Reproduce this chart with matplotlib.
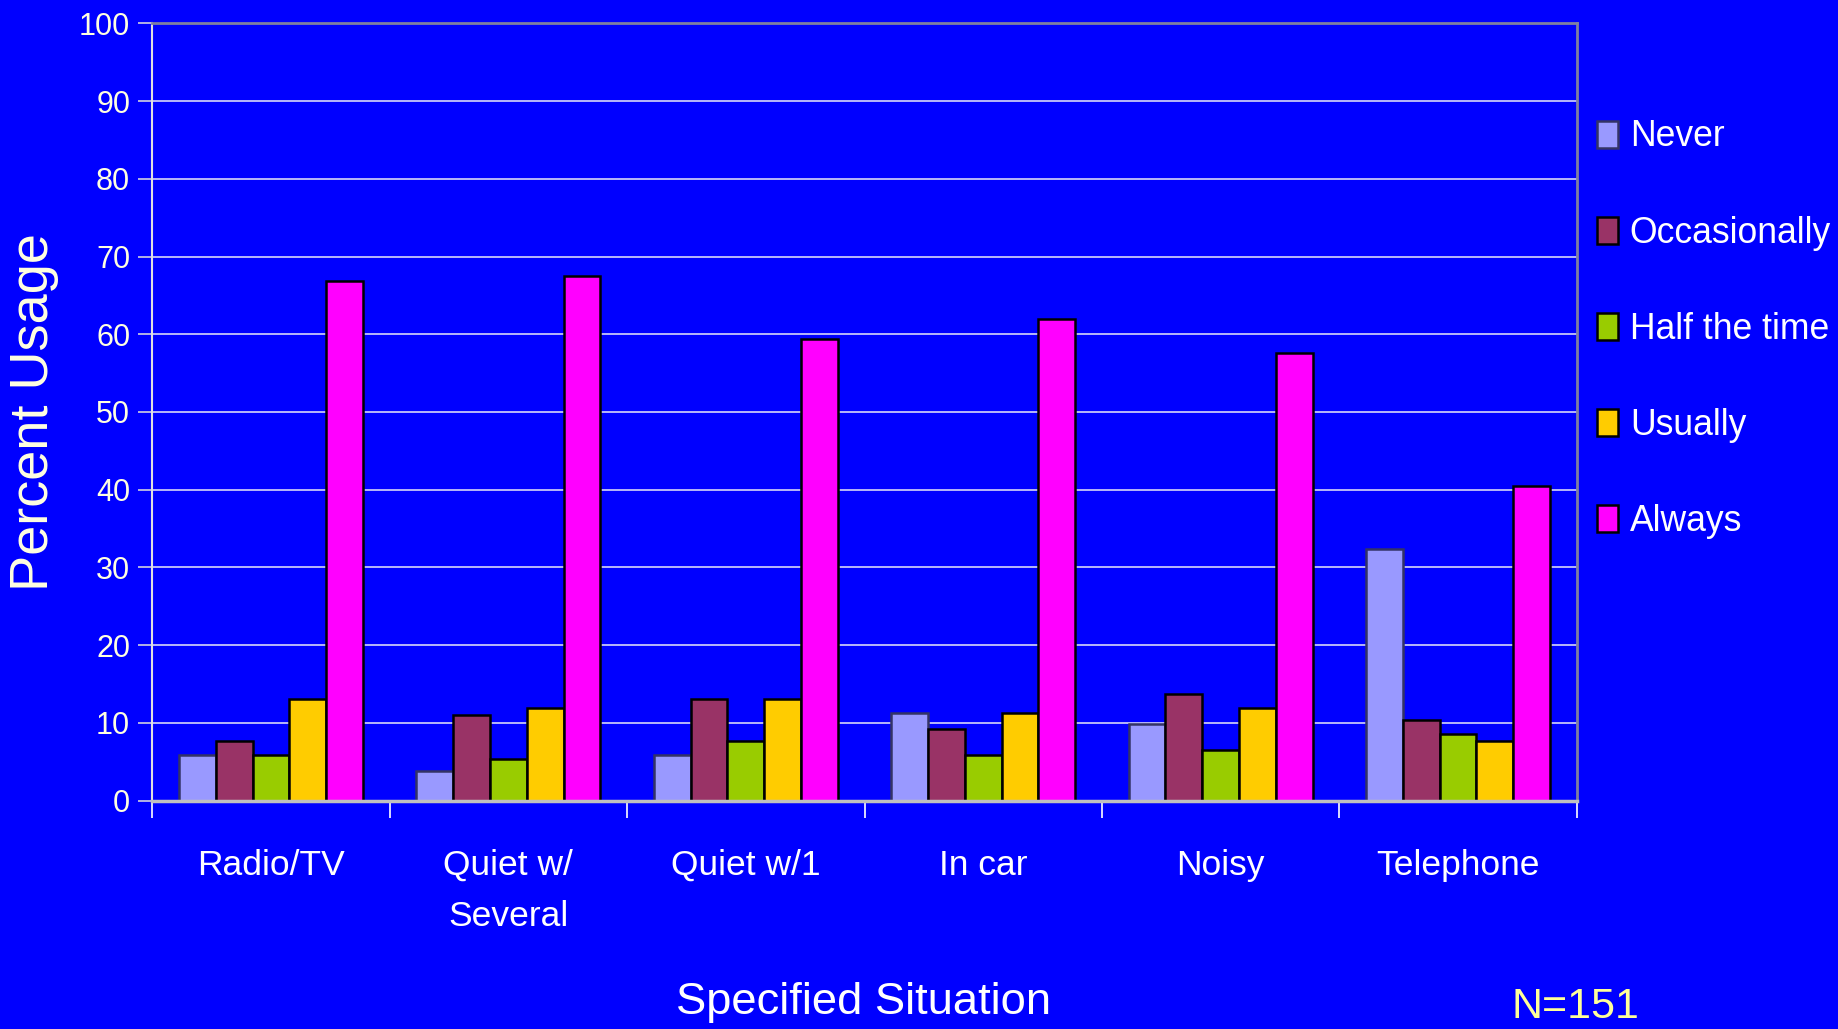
import matplotlib
matplotlib.use("Agg")
import matplotlib.pyplot as plt
import numpy as np

categories = ["Radio/TV", "Quiet w/\nSeveral", "Quiet w/1", "In car", "Noisy", "Telephone"]
series_names = ["Never", "Occasionally", "Half the time", "Usually", "Always"]
never = [5.9, 3.8, 5.9, 11.3, 9.8, 32.4]
occasionally = [7.7, 11.0, 13.1, 9.2, 13.7, 10.4]
half_the_time = [5.9, 5.3, 7.7, 5.9, 6.5, 8.6]
usually = [13.1, 11.9, 13.1, 11.3, 11.9, 7.7]
always = [66.9, 67.5, 59.4, 61.9, 57.6, 40.5]
yticks = list(range(0, 101, 10))

colors = ["#9999FF", "#993366", "#99CC00", "#FFCC00", "#FF00FF"]
edgecolors = ["#333366", "black", "black", "black", "black"]

FONT = "Liberation Sans"
BG = "#0000FF"
CREAM = "#FFFFE0"

fig = plt.figure(figsize=(18.38, 10.29), dpi=100, facecolor=BG)
ax = fig.add_axes([0.0829, 0.222, 0.7749, 0.7553])
ax.set_facecolor(BG)

data = [never, occasionally, half_the_time, usually, always]
x = np.arange(len(categories))
w = 0.155
for i, (vals, name) in enumerate(zip(data, series_names)):
    ax.bar(x + (i - 2) * w, vals, width=w, color=colors[i], edgecolor=edgecolors[i],
           linewidth=1.8, label=name, zorder=3)

ax.set_xlim(-0.5, len(categories) - 0.5)
ax.set_ylim(0, 100)
ax.set_yticks(yticks)
ax.set_yticklabels([str(t) for t in yticks], fontfamily=FONT, fontsize=22, color=CREAM)
for t in yticks[1:-1]:
    ax.axhline(t, color="#E8E8F8", linewidth=1.1, zorder=1)

ax.set_xticks(np.arange(-0.5, len(categories), 1.0))
ax.set_xticklabels([])
ax.set_xticks(x, minor=True)
ax.set_xticklabels(categories, minor=True, fontfamily=FONT, fontsize=25.5, color="white",
                   linespacing=1.68, va="top")
ax.tick_params(axis="x", which="minor", length=0, pad=35)
ax.tick_params(axis="x", which="major", length=12, width=1.2, color="white", direction="out")
ax.tick_params(axis="y", length=10, width=1.2, color="#D0D0E0", pad=6)

ax.spines["top"].set_color("#8080A0")
ax.spines["top"].set_linewidth(2)
ax.spines["right"].set_color("#8080A0")
ax.spines["right"].set_linewidth(2)
ax.spines["bottom"].set_color("#C0C0C0")
ax.spines["bottom"].set_linewidth(2.5)
ax.spines["bottom"].set_zorder(4)
ax.spines["left"].set_color("#E0E0E0")
ax.spines["left"].set_linewidth(1.5)

ax.set_ylabel("Percent Usage", fontfamily=FONT, fontsize=39, color=CREAM, labelpad=14)

leg = fig.legend(loc="upper left", bbox_to_anchor=(0.8515, 0.915), frameon=False,
                 prop={"family": FONT, "size": 25.6}, labelcolor="white",
                 handlelength=0.6, handleheight=0.8, handletextpad=0.32, labelspacing=1.72)
for h in leg.legend_handles:
    h.set_linewidth(1.8)

fig.text(0.470, 0.026, "Specified Situation", fontfamily=FONT, fontsize=32.7, color="white",
         ha="center", va="center")
fig.text(0.8225, 0.002, "N=151", fontfamily=FONT, fontsize=31, color="#FFFF99",
         ha="left", va="bottom")

fig.savefig("out.png", dpi=100, facecolor=BG)
